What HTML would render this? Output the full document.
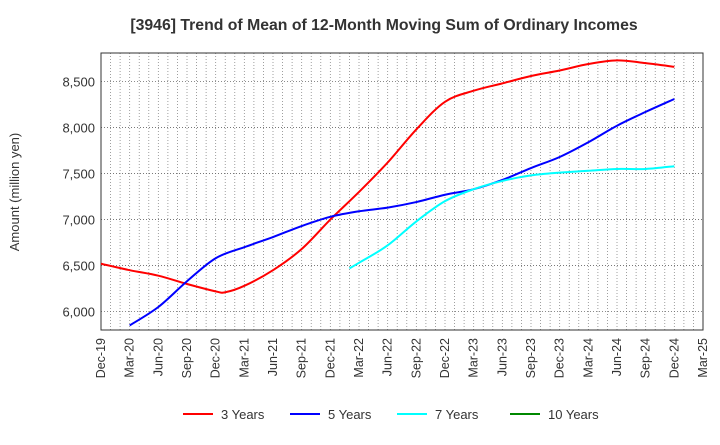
<!DOCTYPE html>
<html><head><meta charset="utf-8"><style>
body{margin:0;background:#fff;font-family:"Liberation Sans",sans-serif;}
</style></head><body>
<svg id="c" width="720" height="440" xmlns="http://www.w3.org/2000/svg">
<text x="384" y="30" text-anchor="middle" font-size="15.8" font-weight="bold" fill="#333">[3946]  Trend of Mean of 12-Month Moving Sum of Ordinary Incomes</text>
<text transform="translate(19,192) rotate(-90)" text-anchor="middle" font-size="13" fill="#333">Amount (million yen)</text>
<g id="grid"></g><g id="axes"></g><g id="series"></g><g id="legend"></g>
</svg>
<script>
const xLabels=["Dec-19","Mar-20","Jun-20","Sep-20","Dec-20","Mar-21","Jun-21","Sep-21","Dec-21","Mar-22","Jun-22","Sep-22","Dec-22","Mar-23","Jun-23","Sep-23","Dec-23","Mar-24","Jun-24","Sep-24","Dec-24","Mar-25"];
const yTicks=[6000,6500,7000,7500,8000,8500];
const months3=[0,3,6,9,12,13,15,18,21,24,27,30,33,36,39,42,45,48,51,54,57,60];
const values3=[6520,6450,6390,6300,6220,6210,6280,6450,6680,7000,7300,7620,7980,8280,8400,8480,8560,8620,8690,8730,8700,8660];
const months5=[3,6,9,12,15,18,21,24,27,30,33,36,39,42,45,48,51,54,57,60];
const values5=[5850,6050,6330,6580,6700,6810,6930,7030,7090,7130,7190,7270,7330,7430,7560,7680,7840,8020,8170,8310];
const months7=[26,27,30,33,36,39,42,45,48,51,54,57,60];
const values7=[6470,6530,6720,6980,7200,7330,7420,7480,7510,7530,7550,7550,7580];
const months10=[];const values10=[];
const L=101,R=703,T=53,B=330,yMin=5800,yMax=8810;
const X=m=>L+m*(R-L)/63;
const Y=v=>B-(v-yMin)*(B-T)/(yMax-yMin);
const NS="http://www.w3.org/2000/svg";
function mk(t,a,p){const e=document.createElementNS(NS,t);for(const k in a)e.setAttribute(k,a[k]);p.appendChild(e);return e;}
const grid=document.getElementById('grid'),axes=document.getElementById('axes'),ser=document.getElementById('series'),leg=document.getElementById('legend');
for(let m=1;m<63;m++){const l=mk('line',{x1:X(m),x2:X(m),y1:T,y2:B,stroke:'#888','stroke-width':0.8,'stroke-dasharray':'1,2'},grid);

}
yTicks.forEach(v=>{const l=mk('line',{x1:L,x2:R,y1:Y(v),y2:Y(v),stroke:'#666','stroke-width':0.8,'stroke-dasharray':'1,2'},grid);


const t=mk('text',{x:L-6,y:Y(v)+5,'text-anchor':'end','font-size':13,fill:'#333'},axes);t.textContent=v.toLocaleString('en-US');

});
xLabels.forEach((s,i)=>{const x=X(i*3);const t=mk('text',{transform:`translate(${x+4},338) rotate(-90)`,'text-anchor':'end','font-size':12.5,fill:'#333'},axes);t.textContent=s;

});
const fr=mk('rect',{x:L,y:T,width:R-L,height:B-T,fill:'none',stroke:'#333','stroke-width':1},axes);


function path(ms,vs){const p=ms.map((m,i)=>[X(m),Y(vs[i])]);if(p.length<2)return '';let d=`M${p[0][0]},${p[0][1]}`;
for(let i=0;i<p.length-1;i++){const p0=p[i-1]||p[i],p1=p[i],p2=p[i+1],p3=p[i+2]||p2;
d+=`C${p1[0]+(p2[0]-p0[0])/6},${p1[1]+(p2[1]-p0[1])/6} ${p2[0]-(p3[0]-p1[0])/6},${p2[1]-(p3[1]-p1[1])/6} ${p2[0]},${p2[1]}`;}return d;}
const S=[["3 Years","#f00",months3,values3],["5 Years","#00f",months5,values5],["7 Years","#0ff",months7,values7],["10 Years","#080",months10,values10]];
S.forEach((s,i)=>{const d=path(s[2],s[3]);if(d){const p=mk('path',{d:d,fill:'none',stroke:s[1],'stroke-width':2},ser);

}
const lx=[183,290,397,510][i];
const g=mk('g',{},leg);


mk('line',{x1:lx,x2:lx+30,y1:414,y2:414,stroke:s[1],'stroke-width':2},g);
const t=mk('text',{x:lx+38,y:419,'font-size':13,fill:'#333'},g);t.textContent=s[0];});
</script>
</body></html>
